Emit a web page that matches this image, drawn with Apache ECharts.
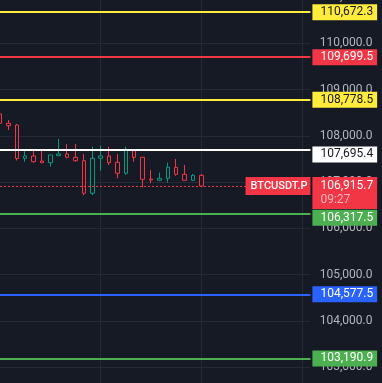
<!DOCTYPE html>
<html><head><meta charset="utf-8">
<script src="https://cdn.jsdelivr.net/npm/echarts@6/dist/echarts.min.js"></script>
<style>html,body{margin:0;padding:0;background:#161a25;overflow:hidden}#c{width:382px;height:383px}</style>
</head><body><div id="c"></div>
<script>
// 15-minute slots (last 13 are empty future slots)
const times = ['00:00','00:15','00:30','00:45','01:00','01:15','01:30','01:45','02:00','02:15','02:30','02:45',
  '03:00','03:15','03:30','03:45','04:00','04:15','04:30','04:45','05:00','05:15','05:30','05:45',
  '06:00','06:15','06:30','06:45','07:00','07:15','07:30','07:45','08:00','08:15','08:30','08:45','09:00','09:15'];
const opens  = [108473,108272,108235,107516,107565,107457,107421,107572,107609,107537,107464,106760,107516,107565,107429,107192,107680,107537,107068,107040,107084,107321,107170,107040,107148];
const closes = [108272,108220,107511,107565,107442,107421,107587,107609,107537,107464,106760,107516,107565,107421,107192,107695,107537,107062,107047,107084,107321,107170,107040,107148,106915.7];
const lows   = [108257,108127,107468,107442,107421,107418,107334,107565,107516,107442,106716,106716,107248,107371,107084,107155,107442,106889,106976,107040,106989,107140,107040,107040,106915.7];
const highs  = [108516,108343,108257,107695,107695,107673,107590,107933,107825,107825,107609,107766,107788,107766,107609,107766,107710,107540,107263,107205,107421,107501,107371,107177,107177];
const levels = [110672.3, 109699.5, 108778.5, 107695.4, 106317.5, 104577.5, 103190.9];
const yTicksMin = 102000, yTicksMax = 111000, yTickStep = 1000;
const lastPrice = 106915.7;
const symbolName = 'BTCUSDT.P';
const countdown = '09:27';

// styles
const levelColors = ['#ffeb3b','#f23645','#ffeb3b','#ffffff','#4caf50','#2962ff','#4caf50'];
const levelText   = ['#131722','#ffffff','#131722','#131722','#ffffff','#ffffff','#ffffff'];
const levelOffset = [0,0,0,4.5,4,0,0];
const BG = '#161a25', UP = '#089981', DOWN = '#f23645', GRID = '#252935';

const fmt = v => v.toLocaleString('en-US',{minimumFractionDigits:1,maximumFractionDigits:1});
const candles = opens.map((o,i)=>[o, closes[i], lows[i], highs[i]]);

const mlData = levels.map((v,i)=>({
  yAxis: v,
  lineStyle:{color:levelColors[i], width:2, type:'solid'},
  label:{show:true, position:'end', distance:2, formatter: fmt(v),
    backgroundColor:levelColors[i], color:levelText[i], padding:[2,4,2,8],
    fontSize:12, lineHeight:12, fontFamily:'Roboto', offset:[0, levelOffset[i]]}
}));
mlData.push({
  yAxis: lastPrice,
  lineStyle:{color:DOWN, width:1, type:[2,2]},
  label:{show:true, position:'end', distance:2,
    formatter:'{p|'+fmt(lastPrice)+'}\n{t|'+countdown+'}',
    backgroundColor:DOWN, padding:[2,4,2,8], offset:[0,7],
    rich:{p:{color:'#ffffff',fontSize:12,lineHeight:14,fontFamily:'Roboto'},
          t:{color:'#fab8be',fontSize:12,lineHeight:14,fontFamily:'Roboto'}}}
});
mlData.push({
  yAxis: lastPrice,
  lineStyle:{color:'rgba(0,0,0,0)', width:1},
  label:{show:true, position:'insideEnd', distance:0, formatter:symbolName,
    backgroundColor:DOWN, color:'#ffffff', padding:[2,3,2,5],
    fontSize:11, lineHeight:14, fontFamily:'Roboto', fontWeight:500}
});

const chart = echarts.init(document.getElementById('c'), null, {renderer:'canvas'});
chart.setOption({
  backgroundColor: BG,
  animation:false,
  grid:{left:0, right:71.6, top:-3.0, bottom:-30.6, containLabel:false, outerBoundsMode:'none'},
  xAxis:{type:'category', data:times, boundaryGap:false,
    axisLine:{show:false}, axisTick:{show:false}, axisLabel:{show:false},
    splitLine:{show:true, interval:(i)=> i>0 && i%12===0, lineStyle:{color:GRID,width:1}}},
  yAxis:{type:'value', position:'right', min:yTicksMin, max:yTicksMax, interval:yTickStep,
    axisLine:{show:false}, axisTick:{show:false},
    splitLine:{lineStyle:{color:GRID,width:1}},
    axisLabel:{color:'#b2b5be', fontSize:12, fontFamily:'Roboto', align:'right', margin:62, formatter:v=>fmt(v)}},
  series:[{
    type:'candlestick', data:candles, barWidth:4,
    itemStyle:{color:BG, color0:BG, borderColor:UP, borderColor0:DOWN, borderWidth:1},
    markLine:{symbol:['none','none'], silent:true, animation:false, data:mlData}
  }]
});
</script></body></html>
